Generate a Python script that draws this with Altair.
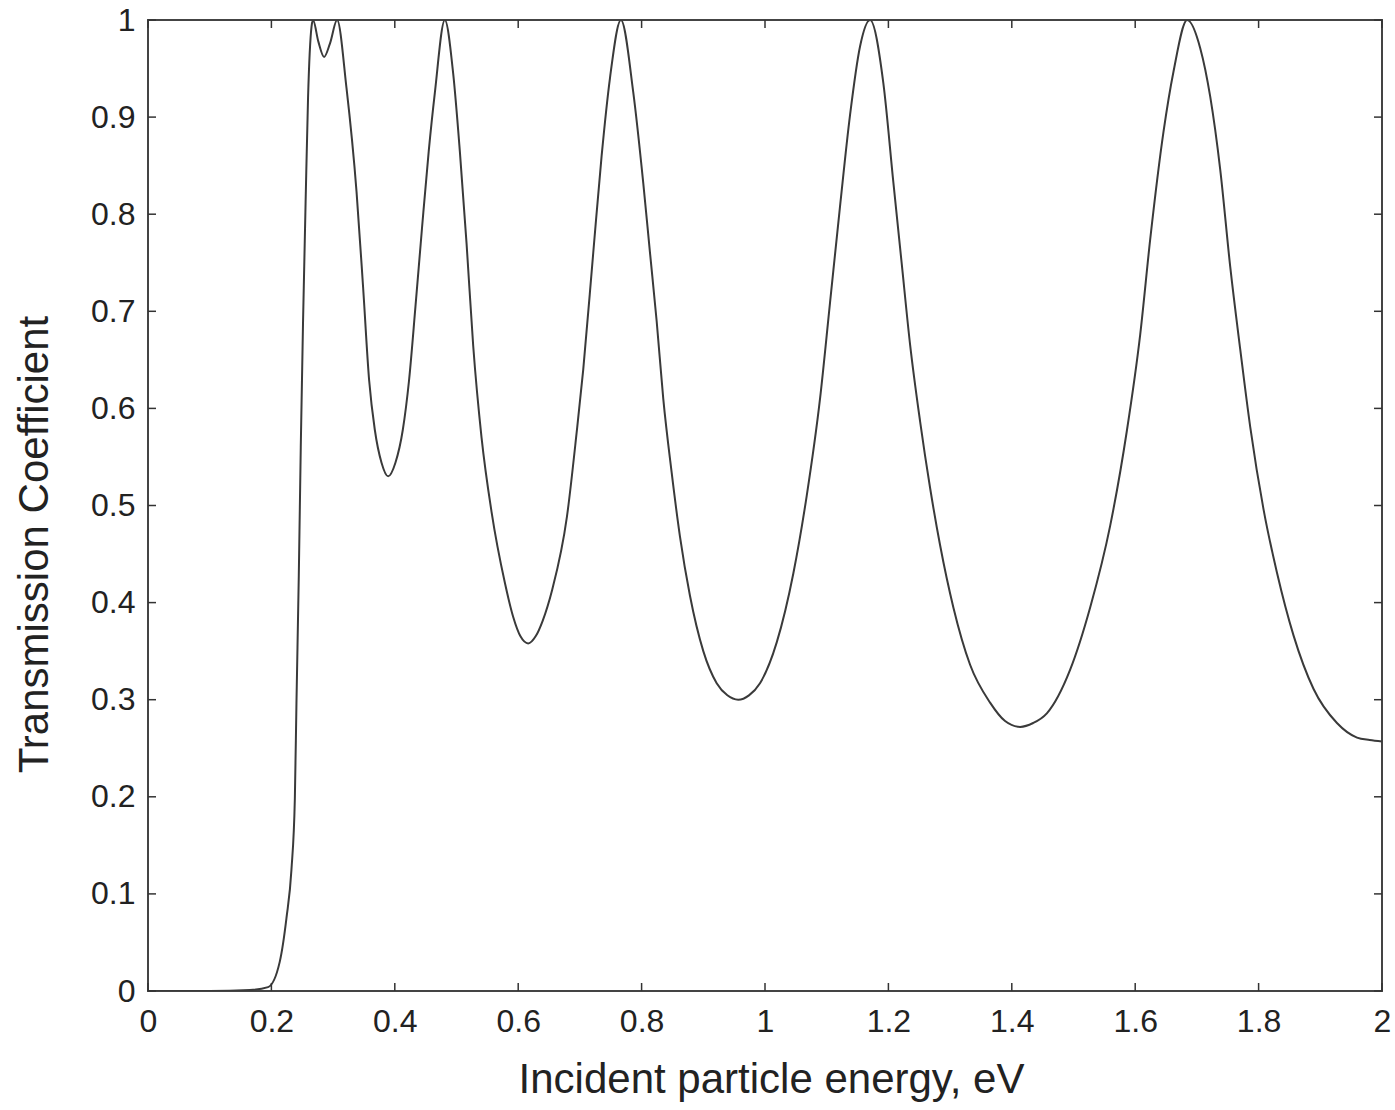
import altair as alt
import pandas as pd

energy = [0.0, 0.10, 0.165, 0.1946, 0.2135, 0.2244, 0.2325, 0.238, 0.2406, 0.2444, 0.2476,
          0.2513, 0.2557, 0.2594, 0.265, 0.2675, 0.276, 0.2854, 0.295, 0.3065, 0.3217,
          0.338, 0.3486, 0.3584, 0.3676, 0.3785, 0.3892, 0.4010, 0.4130, 0.4231, 0.4335,
          0.444, 0.455, 0.4649, 0.4811,
          0.4946, 0.5054, 0.5163, 0.527, 0.5406, 0.5568, 0.5784, 0.5918, 0.6039, 0.6162,
          0.6285, 0.6395, 0.655, 0.679, 0.6947, 0.7054, 0.7216, 0.7352, 0.7487, 0.7665,
          0.7864, 0.8027, 0.8135, 0.8244, 0.8351, 0.8487, 0.8622, 0.8784, 0.90, 0.9217,
          0.939, 0.9567, 0.974, 0.9919, 1.019, 1.0459, 1.0676, 1.0892, 1.1054, 1.1216,
          1.1378, 1.1541, 1.1703, 1.1918, 1.208, 1.2216, 1.2351, 1.2513, 1.2676, 1.2838,
          1.3053, 1.3324, 1.3648, 1.3891, 1.4135, 1.4346, 1.4568, 1.4946, 1.527, 1.5594,
          1.5865, 1.6081, 1.6243, 1.6459, 1.6621, 1.6843, 1.7054, 1.7216, 1.7378, 1.754,
          1.7702, 1.7864, 1.808, 1.8297, 1.8567, 1.8891, 1.927, 1.9595, 1.9800, 2.0]
transmission = [0.0, 0.0, 0.001, 0.004, 0.03, 0.075, 0.125, 0.198, 0.296, 0.428, 0.56,
                0.69, 0.82, 0.92, 0.993, 1.0, 0.978, 0.962, 0.976, 1.0, 0.93,
                0.823, 0.725, 0.629, 0.578, 0.544, 0.530, 0.544, 0.578, 0.629, 0.705,
                0.785, 0.865, 0.925, 1.0,
                0.945, 0.865, 0.77, 0.665, 0.57, 0.4935, 0.4205, 0.3855, 0.365, 0.358,
                0.3655, 0.381, 0.413, 0.4885, 0.575, 0.64, 0.76, 0.86, 0.94, 1.0,
                0.926, 0.832, 0.761, 0.690, 0.610, 0.534, 0.468, 0.407, 0.35, 0.317,
                0.3045, 0.30, 0.3045, 0.317, 0.359, 0.43, 0.51, 0.61, 0.709, 0.808,
                0.902, 0.973, 1.0, 0.935, 0.833, 0.749, 0.666, 0.587, 0.518, 0.459,
                0.395, 0.336, 0.297, 0.278, 0.272, 0.276, 0.286, 0.331, 0.395, 0.479,
                0.577, 0.676, 0.774, 0.885, 0.947, 1.0, 0.971, 0.921, 0.846, 0.746,
                0.661, 0.581, 0.496, 0.431, 0.366, 0.311, 0.276, 0.261, 0.2585, 0.257]

x_ticks = [0, 0.2, 0.4, 0.6, 0.8, 1.0, 1.2, 1.4, 1.6, 1.8, 2.0]
y_ticks = [0, 0.1, 0.2, 0.3, 0.4, 0.5, 0.6, 0.7, 0.8, 0.9, 1.0]

W, H = 1234, 971
FONT = "Liberation Sans"
INK = "#333333"

df = pd.DataFrame({"E": energy, "T": transmission})
xt = pd.DataFrame({"E": x_ticks})
yt = pd.DataFrame({"T": y_ticks})

xscale = alt.Scale(domain=[0, 2], nice=False)
yscale = alt.Scale(domain=[0, 1], nice=False)
xaxis = alt.Axis(values=x_ticks, format=".1~f", title="Incident particle energy, eV",
                 ticks=False, domain=False, grid=False, labelPadding=15, labelFlush=False,
                 titlePadding=22, titleX=623)
yaxis = alt.Axis(values=y_ticks, format=".1~f", title="Transmission Coefficient",
                 ticks=False, domain=False, grid=False, labelPadding=13, labelFlush=False,
                 titlePadding=34, titleY=524)

line = alt.Chart(df).mark_line(color="#3a3a3a", strokeWidth=2, interpolate="monotone",
                               clip=True).encode(
    x=alt.X("E:Q", scale=xscale, axis=xaxis),
    y=alt.Y("T:Q", scale=yscale, axis=yaxis),
)

tick_x_bottom = alt.Chart(xt).mark_rule(color=INK, strokeWidth=1.5).encode(
    x=alt.X("E:Q", scale=xscale, axis=xaxis), y=alt.value(H), y2=alt.value(H - 8))
tick_x_top = alt.Chart(xt).mark_rule(color=INK, strokeWidth=1.5).encode(
    x=alt.X("E:Q", scale=xscale, axis=xaxis), y=alt.value(0), y2=alt.value(8))
tick_y_left = alt.Chart(yt).mark_rule(color=INK, strokeWidth=1.5).encode(
    y=alt.Y("T:Q", scale=yscale, axis=yaxis), x=alt.value(0), x2=alt.value(8))
tick_y_right = alt.Chart(yt).mark_rule(color=INK, strokeWidth=1.5).encode(
    y=alt.Y("T:Q", scale=yscale, axis=yaxis), x=alt.value(W), x2=alt.value(W - 8))

chart = alt.layer(line, tick_x_bottom, tick_x_top, tick_y_left, tick_y_right).properties(
    width=W, height=H,
    autosize=alt.AutoSizeParams(type="none"),
    padding={"left": 148, "top": 20, "right": 13, "bottom": 119},
    background="white",
).configure_view(
    stroke="#444444", strokeWidth=2
).configure_axis(
    labelFont=FONT, labelFontSize=32, labelColor="#222222",
    titleFont=FONT, titleFontSize=42, titleColor="#222222", titleFontWeight="normal",
)

chart.save("out.html", embed_options={"renderer": "svg", "actions": False})
